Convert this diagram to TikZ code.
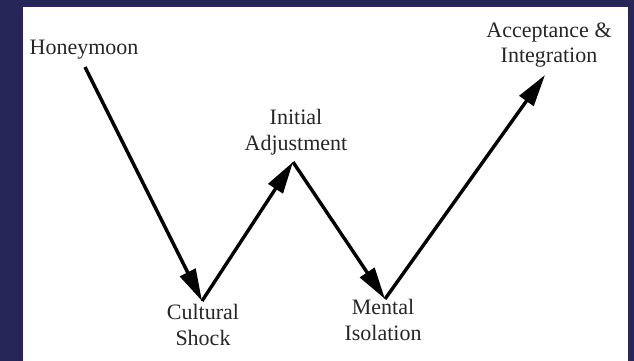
\documentclass[tikz,border=0pt]{standalone}
\usepackage{fontspec}
\setmainfont{Liberation Serif}
\usepackage{xcolor}
\usetikzlibrary{arrows.meta, positioning}
\definecolor{frame}{RGB}{38,38,88}

\begin{document}
\begin{tikzpicture}[x=1pt,y=-1pt,font=\fontsize{22}{25.5}\selectfont,
  stage/.style={align=center, inner sep=0pt, anchor=base, text=black!85},
  jump/.style={line width=3.4pt, -{Triangle[length=32pt,width=17pt]}}]
\fill[frame] (0,0) rectangle (634,361); % dark frame
\fill[white] (23,7) rectangle (628,361);
% labels of the stages (base = last line)
\node[stage] (honey) at (84,55) {Honeymoon};
\node[stage] (shock) at (203,345) {Cultural\\Shock};
\node[stage] (adjust) at (296,150) {Initial\\Adjustment};
\node[stage] (isol) at (383,340) {Mental\\Isolation};
\node[stage] (accept) at (549,63) {Acceptance \&\\Integration};
% corners of the curve
\coordinate (p0) at (85,67);
\coordinate (p1) at (202,301);
\coordinate (p2) at (293,162);
\coordinate (p3) at (385,299);
\coordinate (p4) at (545,75);
\draw[jump] (p0) -- (p1);
\draw[jump] (p1) -- (p2);
\draw[jump] (p2) -- (p3);
\draw[jump] (p3) -- (p4);
\end{tikzpicture}
\end{document}
